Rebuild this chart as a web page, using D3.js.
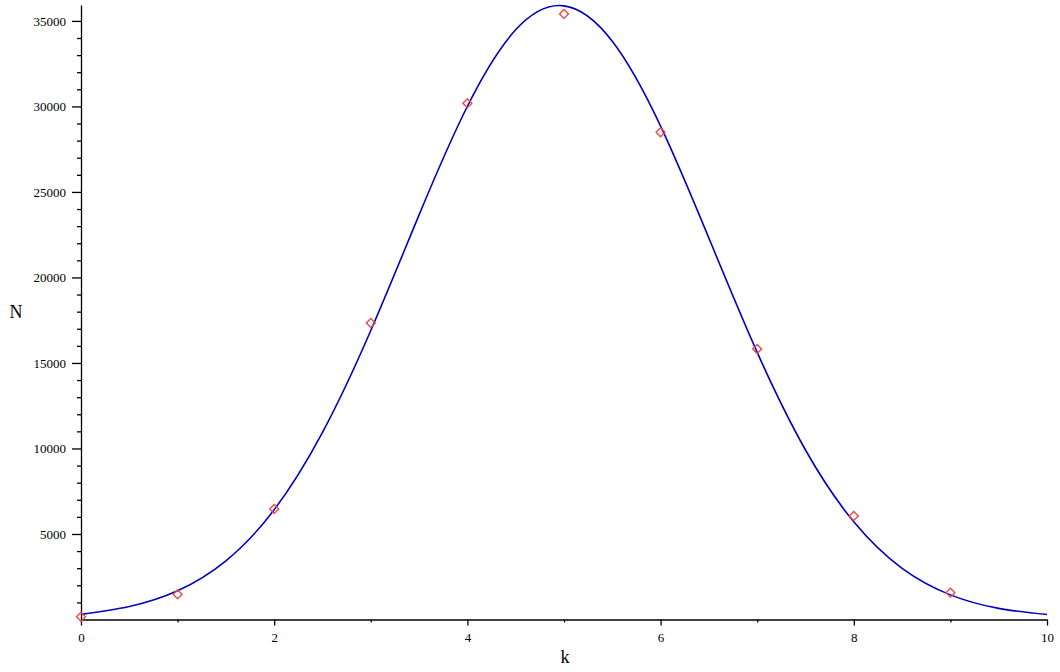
<!DOCTYPE html>
<html>
<head>
<meta charset="utf-8">
<script src="https://cdn.jsdelivr.net/npm/d3@7"></script>
<style>
  body { margin: 0; background: #fff; }
  text { font-family: "Liberation Serif", "Times New Roman", serif; fill: #000; }
</style>
</head>
<body>
<div id="chart"></div>
<script>
// measured points (diamonds)
var pointK = [0, 1, 2, 3, 4, 5, 6, 7, 8, 9];
var pointN = [160, 1470, 6460, 17340, 30190, 35410, 28490, 15820, 6050, 1570];

// fitted curve, every 0.5
var curveK = [0, 0.5, 1, 1.5, 2, 2.5, 3, 3.5, 4, 4.5, 5, 5.5, 6, 6.5, 7, 7.5, 8, 8.5, 9, 9.5, 10];
var curveN = [300, 760, 1680, 3430, 6420, 10940, 16900, 23660, 30010, 34480, 35880,
              33810, 28850, 22300, 15620, 9910, 5710, 2990, 1440, 650, 290];

var xMajor = [0, 2, 4, 6, 8, 10];
var xMinor = [1, 3, 5, 7, 9];
var yMajor = [5000, 10000, 15000, 20000, 25000, 30000, 35000];
var yMinor = d3.range(1000, 36000, 1000).filter(function(v){ return v % 5000 != 0; });

var width = 1060, height = 672;

var x = d3.scaleLinear().domain([0, 10]).range([81, 1047]);
var y = d3.scaleLinear().domain([0, 35930]).range([619.5, 5]);

var svg = d3.select("#chart").append("svg")
  .attr("width", width)
  .attr("height", height);

// y axis: major ticks with labels, minor ticks without
svg.append("g")
  .attr("transform", "translate(" + x(0) + ",0)")
  .call(d3.axisLeft(y).tickValues(yMajor).tickSize(9).tickSizeOuter(0).tickPadding(6)
    .tickFormat(d3.format("d")));
svg.append("g")
  .attr("transform", "translate(" + x(0) + ",0)")
  .call(d3.axisLeft(y).tickValues(yMinor).tickSize(4).tickFormat(""))
  .select(".domain").remove();

// x axis
svg.append("g")
  .attr("transform", "translate(0," + y(0) + ")")
  .call(d3.axisBottom(x).tickValues(xMajor).tickSize(6).tickSizeOuter(0).tickPadding(7)
    .tickFormat(d3.format("d")));
svg.append("g")
  .attr("transform", "translate(0," + y(0) + ")")
  .call(d3.axisBottom(x).tickValues(xMinor).tickSize(3).tickFormat(""))
  .select(".domain").remove();

svg.selectAll(".domain, .tick line").attr("stroke", "#000").attr("stroke-width", 1.3);
svg.selectAll(".tick text")
  .style("font-family", "\"Liberation Serif\", serif")
  .style("font-size", "13px")
  .attr("fill", "#000");

// axis titles
svg.append("text")
  .attr("x", 16).attr("y", 318)
  .attr("text-anchor", "middle")
  .style("font-size", "18px")
  .text("N");
svg.append("text")
  .attr("x", 565).attr("y", 663)
  .attr("text-anchor", "middle")
  .style("font-size", "18px")
  .text("k");

// fitted curve
var line = d3.line()
  .x(function(d){ return x(d[0]); })
  .y(function(d){ return y(d[1]); })
  .curve(d3.curveNatural);

svg.append("path")
  .datum(d3.zip(curveK, curveN))
  .attr("d", line)
  .attr("fill", "none")
  .attr("stroke", "#0000c0")
  .attr("stroke-width", 1.6);

// diamonds
var diamond = d3.symbol().type(d3.symbolSquare).size(40);
svg.append("g").selectAll("path")
  .data(d3.zip(pointK, pointN))
  .enter()
  .append("path")
  .attr("d", diamond)
  .attr("transform", function(d){ return "translate(" + x(d[0]) + "," + y(d[1]) + ") rotate(45)"; })
  .attr("fill", "none")
  .attr("stroke", "#f04848")
  .attr("stroke-width", 1.4);
</script>
</body>
</html>
